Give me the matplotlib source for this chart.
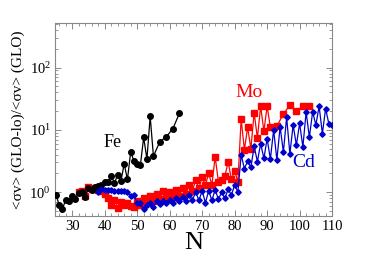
import matplotlib
matplotlib.use("Agg")
import matplotlib.pyplot as plt
from matplotlib.ticker import LogLocator, MultipleLocator, NullFormatter

plt.rcParams['font.family'] = ['Liberation Serif', 'DejaVu Serif']
plt.rcParams['mathtext.fontset'] = 'stix'

# ---- data ----
fe_n = list(range(25, 56)) + [57, 59, 61, 63]
fe_v = [0.9, 0.63, 0.54, 0.75, 0.72, 0.88, 0.78, 0.98, 1.0, 0.85,
        1.15, 1.1, 1.2, 1.25, 1.3, 1.45, 1.45, 1.85, 1.4, 1.9,
        1.5, 2.85, 1.6, 4.4, 3.2, 2.85, 2.75, 7.6, 3.4, 16.5,
        3.8, 6.5, 7.8, 10.5, 18.5]

mo_n = list(range(32, 92)) + [93, 95, 97, 99, 101, 103]
mo_v = [1.02, 1.05, 0.88, 1.2, 1.12, 1.16, 1.1, 1.05, 0.92, 0.8,
        0.63, 0.75, 0.56, 0.69, 0.63, 0.68, 0.59, 0.58, 0.72, 0.63,
        0.8, 0.68, 0.88, 0.73, 0.93, 0.78, 1.05, 0.8, 1.02, 0.85,
        1.1, 0.88, 1.16, 0.95, 1.3, 1.05, 1.55, 1.15, 1.75, 1.3,
        2.0, 1.3, 3.7, 1.48, 1.55, 1.8, 3.1, 1.6, 2.2, 1.45,
        15.0, 4.8, 11.0, 5.0, 19.0, 7.4, 24.0, 9.5, 24.0, 11.0,
        11.5, 18.0, 25.0, 20.0, 24.0, 24.5]

cd_n = list(range(38, 111))
cd_v = [1.02, 1.13, 1.1, 1.08, 1.07, 1.06, 1.05, 1.04, 1.03, 1.0,
        0.88, 0.9, 0.67, 0.66, 0.53, 0.63, 0.67, 0.58, 0.72, 0.65,
        0.72, 0.67, 0.75, 0.68, 0.8, 0.71, 0.83, 0.71, 0.9, 0.75,
        1.0, 0.74, 1.05, 0.68, 1.05, 0.74, 1.1, 0.77, 1.0, 0.8,
        1.12, 0.9, 1.31, 1.0, 3.97, 2.4, 3.15, 2.5, 5.5, 3.1,
        6.0, 3.5, 7.2, 3.4, 10.0, 3.3, 11.3, 4.4, 16.0, 4.1,
        12.0, 5.7, 12.8, 5.3, 19.5, 7.6, 19.5, 12.0, 24.0, 8.7,
        22.0, 12.5, 11.8]

x_ticks = [30, 40, 50, 60, 70, 80, 90, 100, 110]

fig = plt.figure(figsize=(3.74, 2.65), dpi=100)
ax = fig.add_axes([0.147, 0.185, 0.741, 0.728])

ax.plot(mo_n, mo_v, '-s', color='#ff0000', lw=0.9, ms=4.4, mec='#ff0000', zorder=2)
ax.plot(fe_n, fe_v, '-o', color='black', lw=0.9, ms=4.0, zorder=3)
ax.plot(cd_n, cd_v, '-D', color='#0000cc', lw=0.9, ms=2.8, zorder=4)

ax.set_yscale('log')
ax.set_xlim(24.7, 110)
ax.set_ylim(0.415, 520)

ax.set_xticks(x_ticks)
ax.xaxis.set_minor_locator(MultipleLocator(2))
ax.yaxis.set_major_locator(LogLocator(base=10, numticks=10))
ax.yaxis.set_minor_locator(LogLocator(base=10, subs=range(2, 10), numticks=10))
ax.yaxis.set_minor_formatter(NullFormatter())

ax.tick_params(which='both', direction='in', top=True, right=True,
               color='#888888', labelsize=10.5)
ax.tick_params(which='major', length=4, width=0.7, pad=3)
ax.tick_params(which='minor', length=2, width=0.6)
for s in ax.spines.values():
    s.set_color('#888888')
    s.set_linewidth(0.8)

ax.set_xlabel('N', fontsize=19, labelpad=-1)
ax.set_ylabel('<σv> (GLO-lo)/<σv> (GLO)', fontsize=11, labelpad=3)

ax.text(42.5, 6.2, 'Fe', fontsize=13, color='black', ha='center', va='center')
ax.text(84.4, 40, 'Mo', fontsize=14, color='#ff0000', ha='center', va='center')
ax.text(101.3, 2.95, 'Cd', fontsize=14, color='#0000cc', ha='center', va='center')

fig.savefig('out.png', dpi=100)
